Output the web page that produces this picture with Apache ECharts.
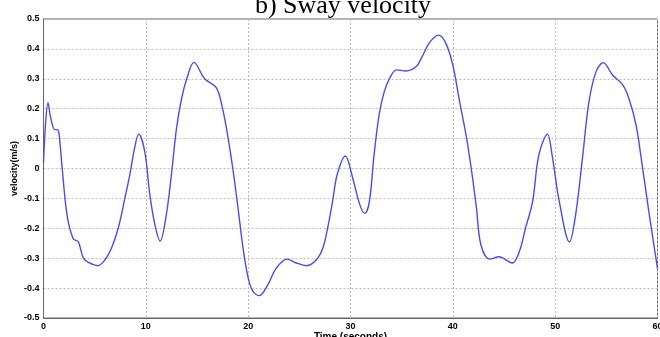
<!DOCTYPE html>
<html><head><meta charset="utf-8">
<script src="https://cdn.jsdelivr.net/npm/echarts@6/dist/echarts.min.js"></script>
<style>html,body{margin:0;padding:0;background:#fff}#c{width:660px;height:337px}</style>
</head><body><div id="c"></div>
<script>
var titleText = "b) Sway velocity";
var xName = "Time (seconds)";
var yName = "velocity(m/s)";
var times = [0,0.2,0.44,0.7,1.1,1.3,1.5,1.8,2.3,2.9,3.4,3.9,4.5,5.3,6,6.65,7.3,7.95,8.44,8.9,9.3,9.9,10.4,10.9,11.4,12,12.5,13,13.5,14,14.7,15.75,16.9,17.5,18,18.5,19,19.5,20,20.45,21.1,21.9,22.75,23.8,24.7,25.7,26.65,27.3,27.76,28.25,28.7,29.5,30.2,30.9,31.4,31.85,32.3,32.8,33.3,33.8,34.5,35.4,36.4,37,37.7,38.6,39.3,40,40.6,41.3,41.8,42.3,42.75,43.6,44.5,45.8,46.5,47.1,47.8,48.4,49.25,49.7,50.4,51.4,52,52.7,53.3,54,54.7,55.6,56.6,57.2,57.9,58.5,59.2,60];
var velocity = [0.02,0.15,0.22,0.17,0.13,0.13,0.12,0.01,-0.155,-0.235,-0.245,-0.3,-0.316,-0.325,-0.306,-0.266,-0.2,-0.1,-0.02,0.068,0.115,0.056,-0.09,-0.19,-0.243,-0.155,-0.02,0.135,0.235,0.30,0.355,0.30,0.27,0.20,0.11,0.0,-0.13,-0.266,-0.366,-0.41,-0.425,-0.39,-0.333,-0.303,-0.316,-0.325,-0.306,-0.266,-0.2,-0.11,-0.02,0.042,-0.03,-0.12,-0.15,-0.11,0.045,0.18,0.257,0.30,0.33,0.326,0.34,0.374,0.42,0.446,0.42,0.346,0.235,0.11,0.0,-0.13,-0.256,-0.303,-0.295,-0.316,-0.278,-0.2,-0.11,0.045,0.115,0.045,-0.11,-0.246,-0.155,0.045,0.223,0.324,0.354,0.313,0.28,0.235,0.146,0.012,-0.155,-0.335];
var xTicks = [0,10,20,30,40,50,60];
var yTicks = [-0.5,-0.4,-0.3,-0.2,-0.1,0,0.1,0.2,0.3,0.4,0.5];

var pts = times.map(function(t,i){return [t, velocity[i]];});
var chart = echarts.init(document.getElementById('c'), null, {renderer:'canvas'});
var lbl = {color:'#000', fontFamily:'Liberation Sans, Arial', fontWeight:'bold', fontSize:9};
chart.setOption({
  animation:false,
  backgroundColor:'#fff',
  title:{text:titleText, left:338, textAlign:'center', top:-12,
    textStyle:{fontFamily:'Liberation Serif, Times New Roman', fontWeight:'normal', fontSize:26, color:'#000'}},
  grid:{left:43.5, right:2.5, top:19, bottom:19, show:true, borderColor:'#666', borderWidth:1,
    outerBoundsMode:'none', containLabel:false},
  xAxis:{type:'value', min:0, max:60, interval:10,
    name:xName, nameLocation:'middle', nameGap:14, nameMoveOverlap:false,
    nameTextStyle:{color:'#000', fontFamily:'Liberation Sans, Arial', fontWeight:'bold', fontSize:10, verticalAlign:'top', padding:[0,0,0,0]},
    axisLine:{show:true, onZero:false, lineStyle:{color:'#666'}},
    axisTick:{show:false},
    axisLabel:Object.assign({margin:4, formatter:function(v){return xTicks.indexOf(v)>=0?String(v):'';}}, lbl),
    splitLine:{show:true, lineStyle:{color:'#bbb', type:[2,2], width:1}}},
  yAxis:{type:'value', min:-0.5, max:0.5, interval:0.1,
    name:yName, nameLocation:'middle', nameGap:24, nameRotate:90, nameMoveOverlap:false,
    nameTextStyle:{color:'#000', fontFamily:'Liberation Sans, Arial', fontWeight:'bold', fontSize:9},
    axisLine:{show:true, lineStyle:{color:'#666'}},
    axisTick:{show:false},
    axisLabel:Object.assign({margin:4, formatter:function(v){var r=Math.round(v*10)/10; return String(r);}}, lbl),
    splitLine:{show:true, lineStyle:{color:'#bbb', type:[2,2], width:1}}},
  series:[{type:'line', data:pts, smooth:0.35, showSymbol:false, symbol:'none',
    lineStyle:{color:'#4b4bf5', width:1.4}}]
});
</script></body></html>
